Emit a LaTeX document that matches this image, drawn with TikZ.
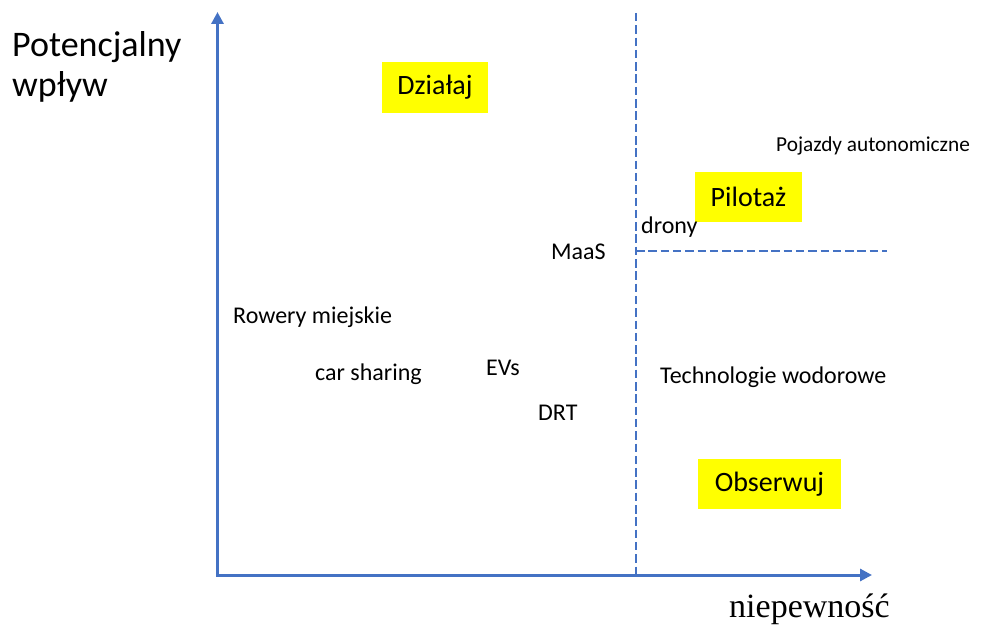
\documentclass[tikz,border=0pt]{standalone}
\usepackage{fontspec}
\setmainfont{Carlito}
\newfontfamily\serifaxis{Liberation Serif}
\usetikzlibrary{arrows.meta}
\definecolor{axisblue}{HTML}{4472C4}
\definecolor{zonefill}{HTML}{FFFF00}

\begin{document}
\begin{tikzpicture}[x=1pt,y=-1pt,
  axisline/.style={draw=axisblue, line width=3pt, -{Triangle[length=12pt,width=12pt]}},
  divider/.style={draw=axisblue, line width=2.5pt, dash pattern=on 8.5pt off 3.8pt},
  lbl/.style={anchor=base west, inner sep=0pt, font=\fontsize{24}{29}\selectfont},
  zone/.style={fill=zonefill, draw=none, inner sep=0pt, minimum height=50pt,
               font=\fontsize{28}{34}\selectfont},
  axtitle/.style={anchor=base west, inner sep=0pt, font=\fontsize{36}{43}\selectfont}
]
\useasboundingbox (0,0) rectangle (1002,626);

% axes
\coordinate (origin) at (217.5,576.5);
\coordinate (ytop) at (217.5,12);
\coordinate (xright) at (216,575);
\coordinate (xend) at (872,575);
\draw[axisline] (origin) -- (ytop);
\draw[axisline] (xright) -- (xend);

% quadrant dividers
\coordinate (vtop) at (636,13);
\coordinate (vbot) at (636,575);
\coordinate (hleft) at (636,251);
\coordinate (hright) at (887,251);
\draw[divider] (vtop) -- (vbot);
\draw[divider] (hleft) -- (hright);

% axis titles
\node[axtitle] (ytitle1) at (12,57) {Potencjalny};
\node[axtitle] (ytitle2) at (12,96) {wpływ};
\node[anchor=base west, inner sep=0pt, font=\serifaxis\fontsize{34}{40}\selectfont] (xtitle) at (729,617) {niepewność};

% zones
\node[zone, minimum width=106pt] (act) at (435,87.5) {Działaj};
\node[zone, minimum width=107pt] (pilot) at (748.5,197) {Pilotaż};
\node[zone, minimum width=143pt] (watch) at (769.5,484) {Obserwuj};

% technologies
\node[lbl, font=\fontsize{21.3}{26}\selectfont] (auto) at (776,151) {Pojazdy autonomiczne};
\node[lbl] (drony) at (641,233) {drony};
\node[lbl] (maas) at (551,259) {MaaS};
\node[lbl] (bikes) at (233,323) {Rowery miejskie};
\node[lbl] (cars) at (315,380) {car sharing};
\node[lbl] (evs) at (486,375) {EVs};
\node[lbl] (drt) at (538,420) {DRT};
\node[lbl] (h2) at (660,383) {Technologie wodorowe};
\end{tikzpicture}
\end{document}
